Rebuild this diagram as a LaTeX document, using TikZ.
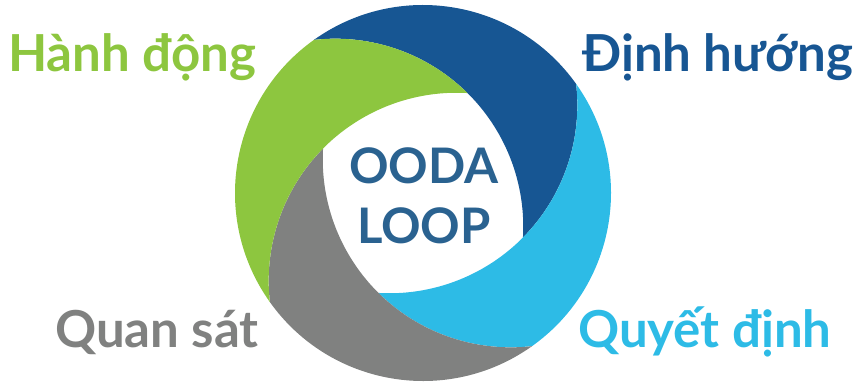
\documentclass[tikz,border=0pt]{standalone}
\usepackage{fontspec}
\setmainfont{Lato}
\definecolor{actgreen}{HTML}{8DC63F}
\definecolor{oriblue}{HTML}{175693}
\definecolor{decblue}{HTML}{2DBBE6}
\definecolor{obsgrey}{HTML}{808180}
\definecolor{loopblue}{HTML}{2A6290}
\begin{document}
\begin{tikzpicture}[x=1pt, y=1pt,
  phase/.style={font=\bfseries\fontsize{51}{51}\selectfont, anchor=base west, inner sep=0pt},
  title/.style={font=\bfseries\fontsize{49}{49}\selectfont, anchor=base, inner sep=0pt, text=loopblue}]
  \useasboundingbox (0,0) rectangle (856,384);

  % centre of the loop
  \coordinate (O) at (423,191);

  % blades (outer circle r=188, each inner edge is an arc of r=188 whose centre sits r/2 off O)
  \foreach \a/\col in {111/oriblue, 21/decblue, -69/obsgrey, -159/actgreen}{
    \fill[\col] (O) ++(\a+14.48:188pt)
      arc[start angle=\a+14.48, end angle=\a-75.52, radius=188pt]
      arc[start angle=\a-104.48, end angle=\a-155.70, radius=188pt]
      arc[start angle=\a-114.30, end angle=\a-14.48, radius=188pt] -- cycle;
  }

  % centre text
  \node[title] (ooda) at (424,201) {OODA};
  \node[title] (loop) at (424,141) {LOOP};

  % phases
  \node[phase, text=actgreen] (act)     at (8,313)   {Hành động};
  \node[phase, text=oriblue]  (orient)  at (582,313) {Định hướng};
  \node[phase, text=obsgrey]  (observe) at (55,37)   {Quan sát};
  \node[phase, text=decblue]  (decide)  at (578,37)  {Quyết định};
\end{tikzpicture}
\end{document}
